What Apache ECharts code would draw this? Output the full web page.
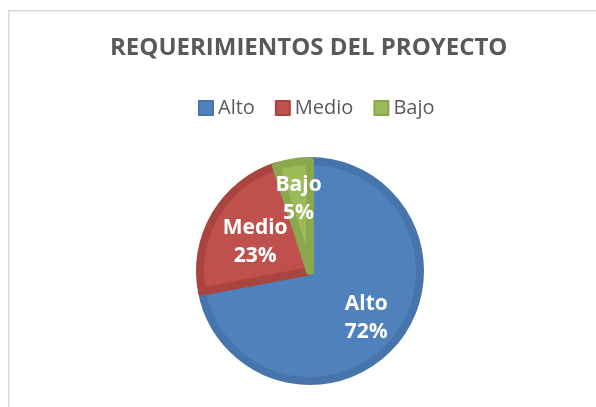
<!DOCTYPE html>
<html>
<head>
<meta charset="utf-8">
<script src="https://cdn.jsdelivr.net/npm/echarts@6/dist/echarts.min.js"></script>
<style>
html,body{margin:0;padding:0;background:#fff;}
#c{width:596px;height:407px;}
</style>
</head>
<body>
<div id="c"></div>
<script>
const titleText = 'REQUERIMIENTOS DEL PROYECTO';
const categories = ['Alto', 'Medio', 'Bajo'];
const values = [72, 23, 5];
const mainColors = ['#4F81BD', '#C0504D', '#9BBB59'];
const edgeColors = ['#4674AB', '#A9443F', '#8BA84F'];
const labelShifts = [[0, 0], [8, 8], [0, 0]];

const chart = echarts.init(document.getElementById('c'), null, {renderer: 'canvas'});

const visibleData = categories.map((name, i) => ({
  name: name,
  value: values[i],
  itemStyle: {color: mainColors[i], borderColor: edgeColors[i]}
}));
const labelData = categories.map((name, i) => ({name: name, value: values[i]}));

chart.setOption({
  animation: false,
  color: mainColors,
  title: {
    text: titleText,
    left: 105,
    top: 31,
    textStyle: {fontFamily: 'Open Sans', fontWeight: 'bold', fontSize: 24, color: '#595959'}
  },
  legend: {
    data: categories,
    left: 193,
    top: 93,
    icon: 'rect',
    itemWidth: 14,
    itemHeight: 14,
    itemGap: 20,
    textStyle: {fontFamily: 'Open Sans', fontSize: 20, color: '#595959'}
  },
  graphic: [{
    type: 'rect',
    shape: {x: 8.75, y: 10.75, width: 800, height: 600},
    style: {fill: 'none', stroke: '#d9d9d9', lineWidth: 1.5},
    silent: true
  }],
  series: [
    {
      type: 'pie',
      center: [310, 271],
      radius: 110,
      startAngle: 90,
      clockwise: true,
      silent: true,
      label: {show: false},
      labelLine: {show: false},
      itemStyle: {borderWidth: 8, borderJoin: 'round'},
      data: visibleData
    },
    {
      type: 'pie',
      center: [310, 271],
      radius: [26, 114],
      startAngle: 90,
      clockwise: true,
      silent: true,
      avoidLabelOverlap: false,
      legendHoverLink: false,
      itemStyle: {color: 'rgba(0,0,0,0)'},
      labelLayout: function (p) {
        const s = labelShifts[p.dataIndex] || [0, 0];
        return {dx: s[0], dy: s[1], hideOverlap: false};
      },
      label: {
        show: true,
        position: 'inside',
        formatter: '{b}\n{d}%',
        fontFamily: 'Open Sans',
        fontWeight: 'bold',
        fontSize: 21,
        lineHeight: 28,
        color: '#ffffff',
        overflow: 'none'
      },
      labelLine: {show: false},
      data: labelData
    }
  ]
});
</script>
</body>
</html>
